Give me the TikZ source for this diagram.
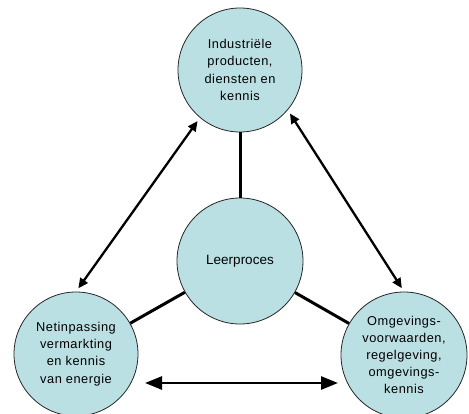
\documentclass[tikz,border=0pt]{standalone}
\usepackage{fontspec}
\setmainfont{Liberation Sans}
\usetikzlibrary{arrows.meta}
\definecolor{circfill}{RGB}{187,224,227}
\begin{document}
\begin{tikzpicture}[x=1pt,y=-1pt,
  circ/.style={circle, draw=black!85, line width=0.8pt, fill=circfill, minimum size=124pt, inner sep=0pt},
  lbl/.style={font=\fontsize{12.8}{17.2}\selectfont\addfontfeature{LetterSpace=4}, align=center},
  link/.style={line width=3pt},
  twoway/.style={line width=2.3pt, shorten <=4pt, shorten >=4pt, {Triangle[length=10pt,width=9pt]}-{Triangle[length=10pt,width=9pt]}},
  bigway/.style={line width=2.6pt, {Triangle[length=17pt,width=13pt]}-{Triangle[length=17pt,width=13pt]}}
]
\useasboundingbox (0,0) rectangle (469,414);
\node[circ, lbl] (top) at (240,70) {Industriële\\producten,\\diensten en\\kennis};
\node[circ, minimum size=126pt, font=\fontsize{13.5}{16}\selectfont] (mid) at (240,261) {Leerproces};
\node[circ, lbl] (left) at (76,354) {Netinpassing\\vermarkting\\en kennis\\van energie};
\node[circ, lbl, minimum size=126pt] (right) at (404,355) {Omgevings-\\voorwaarden,\\regelgeving,\\omgevings-\\kennis};
\coordinate (bl) at (145,383);
\coordinate (br) at (338,383);
\draw[link] (top) -- (mid);
\draw[link] (mid) -- (left);
\draw[link] (mid) -- (right);
\draw[twoway] (left.north) -- (top.230);
\draw[twoway] (right.north) -- (top.-40);
\draw[bigway] (bl) -- (br);
\end{tikzpicture}
\end{document}
